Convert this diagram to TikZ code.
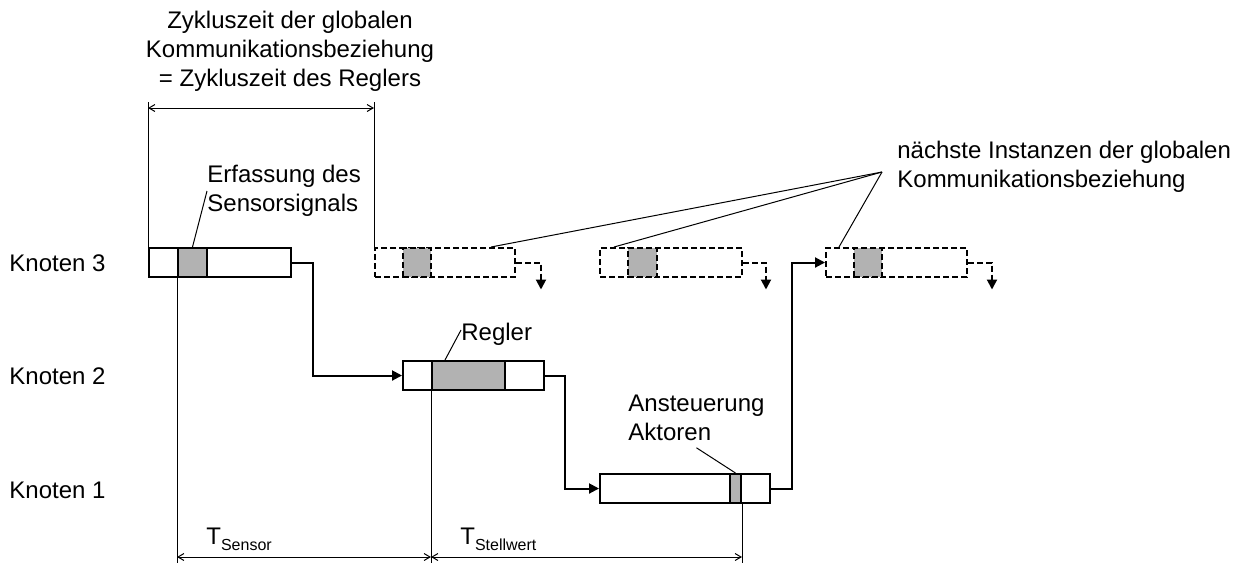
\documentclass[tikz,border=0pt]{standalone}
\usepackage{fontspec}
\setmainfont{Liberation Sans}
\usepackage{tikz}
\usetikzlibrary{arrows.meta}

\begin{document}
\begin{tikzpicture}[x=0.5pt, y=-0.5pt,
  every node/.style={font=\fontsize{12}{14.5}\selectfont},
  slot/.style={draw, line width=1pt, fill=white, minimum height=14.5pt, inner sep=0pt},
  cell/.style={slot, fill=gray!60},
  later/.style={slot, dash pattern=on 3pt off 1.5pt},
  latercell/.style={later, fill=gray!60},
  note/.style={inner sep=0pt, align=left},
  arrow/.style={-{Triangle[length=5pt, width=5pt]}, line width=1pt},
  stub/.style={arrow, dash pattern=on 3pt off 1.5pt},
  dim/.style={line width=0.5pt},
  dimarrow/.style={{Straight Barb[length=3pt, width=3.5pt]}-{Straight Barb[length=3pt, width=3.5pt]}, line width=0.5pt},
  lead/.style={line width=0.5pt}
]
\useasboundingbox (0,0) rectangle (1239,564);

\node[note, anchor=west] (kn3) at (9,263) {Knoten 3};
\node[note, anchor=west] (kn2) at (9,376) {Knoten 2};
\node[note, anchor=west] (kn1) at (9,490) {Knoten 1};

\node[slot, minimum width=71pt] (k3) at (220,262.5) {};
\node[cell, minimum width=14.5pt] (g3) at (192.5,262.5) {};
\node[slot, minimum width=70.5pt] (k2) at (473.5,375.5) {};
\node[cell, minimum width=36.5pt] (g2) at (468.5,375.5) {};
\node[slot, minimum width=85pt] (k1) at (685,488.5) {};
\node[cell, minimum width=5.5pt] (g1) at (735.5,488.5) {};

\node[later, minimum width=70pt] (dA) at (445,262.5) {};
\node[latercell, minimum width=14pt] (gA) at (417,262.5) {};
\node[later, minimum width=71pt] (dB) at (671,262.5) {};
\node[latercell, minimum width=14.5pt] (gB) at (642.5,262.5) {};
\node[later, minimum width=70.5pt] (dC) at (896.5,262.5) {};
\node[latercell, minimum width=14pt] (gC) at (868,262.5) {};

\node[note, align=center] (cyc) at (290,51) {Zykluszeit der globalen\\Kommunikationsbeziehung\\= Zykluszeit des Reglers};
\node[note, anchor=west] (erf) at (207,191) {Erfassung des\\Sensorsignals};
\node[note, anchor=west] (reg) at (461,334) {Regler};
\node[note, anchor=west] (ans) at (628,417.5) {Ansteuerung\\Aktoren};
\node[note, anchor=west] (nae) at (897,166.5) {nächste Instanzen der globalen\\Kommunikationsbeziehung};
\node[note, anchor=base west] (ts) at (206,544) {T\raisebox{-3pt}{\fontsize{8}{9}\selectfont Sensor}};
\node[note, anchor=base west] (tw) at (460,544) {T\raisebox{-3pt}{\fontsize{8}{9}\selectfont Stellwert}};

\draw[arrow] (k3.east) -- ++(21,0) |- (k2.west);
\draw[arrow] (k2.east) -- ++(20,0) |- (k1.west);
\draw[arrow] (k1.east) -- ++(21,0) |- (dC.west);
\draw[stub] (dA.east) -| ++(25,27);
\draw[stub] (dB.east) -| ++(23,27);
\draw[stub] (dC.east) -| ++(24,27);

\coordinate (ctop) at (0,102);
\coordinate (carr) at (0,108);
\draw[dim] (k3.north west) -- (k3.north west |- ctop);
\draw[dim] (dA.north west) -- (dA.north west |- ctop);
\draw[dimarrow] (k3.north west |- carr) -- (dA.north west |- carr);

\coordinate (foot) at (0,563);
\coordinate (base) at (0,557);
\draw[dim] (g3.south west) -- (g3.south west |- foot);
\draw[dim] (g2.south west) -- (g2.south west |- foot);
\draw[dim] (g1.south east) -- (g1.south east |- foot);
\draw[dimarrow] (g3.south west |- base) -- (g2.south west |- base);
\draw[dimarrow] (g2.south west |- base) -- (g1.south east |- base);

\draw[lead] (g3.north) -- (erf.west);
\draw[lead] ([xshift=7pt]g2.north west) -- ([yshift=2pt]reg.west);
\draw[lead] ([yshift=-3.5pt]ans.south) -- (g1.north);
\coordinate (fan) at ([shift={(-7.5pt,-2.75pt)}]nae.west);
\draw[lead] (fan) -- ([xshift=-12.5pt]dA.north east);
\draw[lead] (fan) -- ([xshift=7.5pt]dB.north west);
\draw[lead] (fan) -- ([xshift=7pt]dC.north west);
\end{tikzpicture}
\end{document}
